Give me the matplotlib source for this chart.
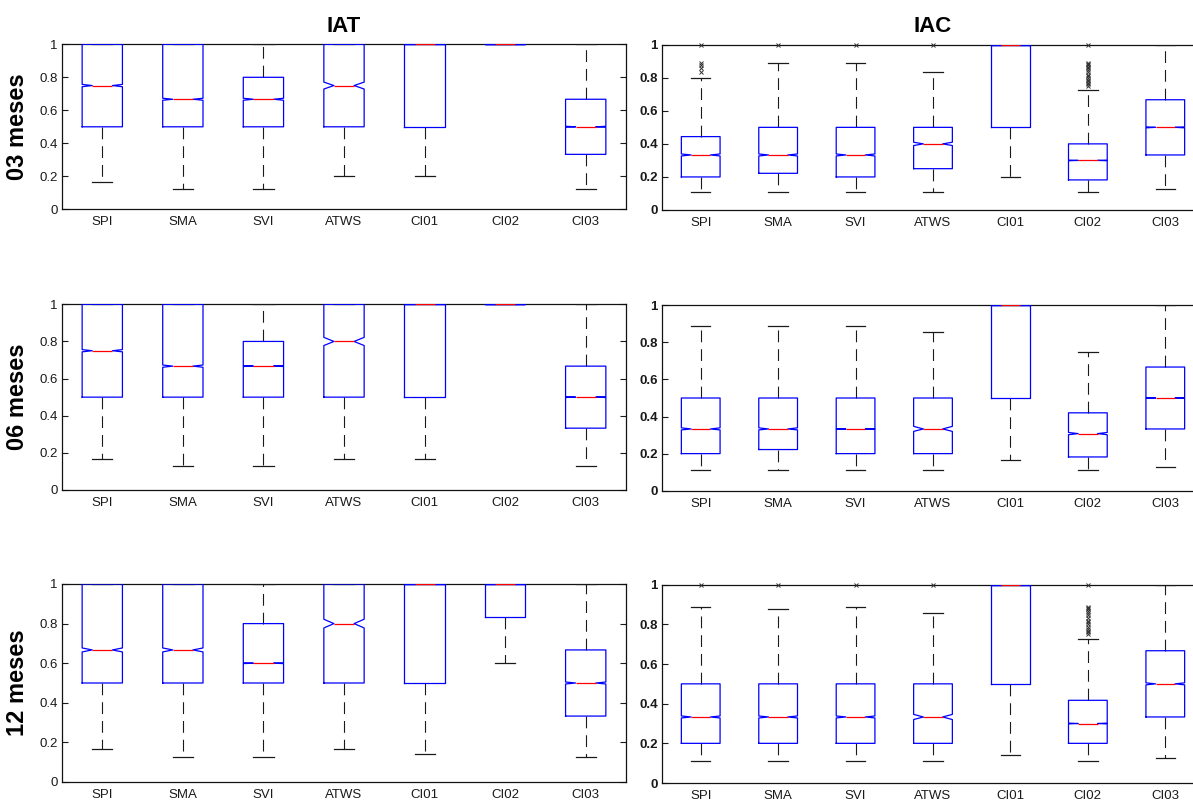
import matplotlib
matplotlib.use('Agg')
import matplotlib.pyplot as plt

plt.rcParams['font.family'] = ['Liberation Sans', 'DejaVu Sans']
plt.rcParams['lines.scale_dashes'] = False

categories = ['SPI', 'SMA', 'SVI', 'ATWS', 'CI01', 'CI02', 'CI03']
col_titles = ['IAT', 'IAC']
row_labels = ['03 meses', '06 meses', '12 meses']
ytick_vals = [0, 0.2, 0.4, 0.6, 0.8, 1.0]
ytick_text = ['0', '0.2', '0.4', '0.6', '0.8', '1']

# ---------------- IAT, 03 meses ----------------
iat03_med = [0.75, 0.667, 0.667, 0.75, 1.0, 1.0, 0.5]
iat03_q1 = [0.5, 0.5, 0.5, 0.5, 0.5, 1.0, 0.333]
iat03_q3 = [1.0, 1.0, 0.8, 1.0, 1.0, 1.0, 0.667]
iat03_lo = [0.167, 0.125, 0.125, 0.2, 0.2, 1.0, 0.125]
iat03_hi = [1.0, 1.0, 1.0, 1.0, 1.0, 1.0, 1.0]
iat03_cilo = [0.743, 0.661, 0.661, 0.729, 1.0, 1.0, 0.497]
iat03_cihi = [0.757, 0.673, 0.673, 0.771, 1.0, 1.0, 0.503]
iat03_out = [[], [], [], [], [], [], []]

# ---------------- IAC, 03 meses ----------------
iac03_med = [0.333, 0.333, 0.333, 0.4, 1.0, 0.3, 0.5]
iac03_q1 = [0.2, 0.222, 0.2, 0.25, 0.5, 0.182, 0.333]
iac03_q3 = [0.444, 0.5, 0.5, 0.5, 1.0, 0.4, 0.667]
iac03_lo = [0.111, 0.111, 0.111, 0.111, 0.2, 0.111, 0.125]
iac03_hi = [0.8, 0.889, 0.889, 0.833, 1.0, 0.727, 1.0]
iac03_cilo = [0.327, 0.327, 0.327, 0.39, 1.0, 0.298, 0.497]
iac03_cihi = [0.339, 0.339, 0.339, 0.41, 1.0, 0.302, 0.503]
iac03_out = [[0.833, 0.857, 0.875, 0.889, 1.0], [1.0], [1.0], [1.0], [],
             [0.75, 0.76, 0.769, 0.778, 0.786, 0.8, 0.812, 0.818, 0.833,
              0.846, 0.857, 0.867, 0.875, 0.882, 0.889, 1.0], []]

# ---------------- IAT, 06 meses ----------------
iat06_med = [0.75, 0.667, 0.667, 0.8, 1.0, 1.0, 0.5]
iat06_q1 = [0.5, 0.5, 0.5, 0.5, 0.5, 1.0, 0.333]
iat06_q3 = [1.0, 1.0, 0.8, 1.0, 1.0, 1.0, 0.667]
iat06_lo = [0.167, 0.13, 0.13, 0.167, 0.167, 1.0, 0.13]
iat06_hi = [1.0, 1.0, 1.0, 1.0, 1.0, 1.0, 1.0]
iat06_cilo = [0.744, 0.661, 0.665, 0.778, 1.0, 1.0, 0.498]
iat06_cihi = [0.756, 0.673, 0.669, 0.822, 1.0, 1.0, 0.502]
iat06_out = [[], [], [], [], [], [], []]

# ---------------- IAC, 06 meses ----------------
iac06_med = [0.333, 0.333, 0.333, 0.333, 1.0, 0.308, 0.5]
iac06_q1 = [0.2, 0.222, 0.2, 0.2, 0.5, 0.182, 0.333]
iac06_q3 = [0.5, 0.5, 0.5, 0.5, 1.0, 0.42, 0.667]
iac06_lo = [0.111, 0.111, 0.111, 0.111, 0.167, 0.111, 0.13]
iac06_hi = [0.889, 0.889, 0.889, 0.857, 1.0, 0.75, 1.0]
iac06_cilo = [0.328, 0.328, 0.332, 0.32, 1.0, 0.302, 0.498]
iac06_cihi = [0.339, 0.339, 0.334, 0.347, 1.0, 0.314, 0.502]
iac06_out = [[], [], [], [], [], [], []]

# ---------------- IAT, 12 meses ----------------
iat12_med = [0.667, 0.667, 0.6, 0.8, 1.0, 1.0, 0.5]
iat12_q1 = [0.5, 0.5, 0.5, 0.5, 0.5, 0.833, 0.333]
iat12_q3 = [1.0, 1.0, 0.8, 1.0, 1.0, 1.0, 0.667]
iat12_lo = [0.167, 0.125, 0.125, 0.167, 0.143, 0.6, 0.125]
iat12_hi = [1.0, 1.0, 1.0, 1.0, 1.0, 1.0, 1.0]
iat12_cilo = [0.657, 0.657, 0.598, 0.778, 1.0, 1.0, 0.495]
iat12_cihi = [0.677, 0.677, 0.602, 0.822, 1.0, 1.0, 0.505]
iat12_out = [[], [], [], [], [], [], []]

# ---------------- IAC, 12 meses ----------------
iac12_med = [0.333, 0.333, 0.333, 0.333, 1.0, 0.3, 0.5]
iac12_q1 = [0.2, 0.2, 0.2, 0.2, 0.5, 0.2, 0.333]
iac12_q3 = [0.5, 0.5, 0.5, 0.5, 1.0, 0.417, 0.667]
iac12_lo = [0.111, 0.111, 0.111, 0.111, 0.143, 0.111, 0.125]
iac12_hi = [0.889, 0.875, 0.889, 0.857, 1.0, 0.727, 1.0]
iac12_cilo = [0.328, 0.328, 0.328, 0.32, 1.0, 0.298, 0.495]
iac12_cihi = [0.338, 0.338, 0.338, 0.346, 1.0, 0.302, 0.505]
iac12_out = [[1.0], [1.0], [1.0], [1.0], [],
             [0.75, 0.76, 0.769, 0.778, 0.786, 0.8, 0.812, 0.818, 0.833,
              0.846, 0.857, 0.867, 0.875, 0.882, 0.889, 1.0], []]

panels = [
    [(iat03_med, iat03_q1, iat03_q3, iat03_lo, iat03_hi, iat03_cilo, iat03_cihi, iat03_out),
     (iac03_med, iac03_q1, iac03_q3, iac03_lo, iac03_hi, iac03_cilo, iac03_cihi, iac03_out)],
    [(iat06_med, iat06_q1, iat06_q3, iat06_lo, iat06_hi, iat06_cilo, iat06_cihi, iat06_out),
     (iac06_med, iac06_q1, iac06_q3, iac06_lo, iac06_hi, iac06_cilo, iac06_cihi, iac06_out)],
    [(iat12_med, iat12_q1, iat12_q3, iat12_lo, iat12_hi, iat12_cilo, iat12_cihi, iat12_out),
     (iac12_med, iac12_q1, iac12_q3, iac12_lo, iac12_hi, iac12_cilo, iac12_cihi, iac12_out)],
]

W, H = 1193, 801
fig = plt.figure(figsize=(W / 100, H / 100), dpi=100)

# axes geometry in pixels: (left, width) per column, (top, bottom) per row/column
col_x = [(62, 564), (662, 542)]
row_y = [[(44.3, 209.3), (44.7, 210.0)],
         [(304.3, 490.0), (305.3, 490.7)],
         [(584.0, 782.0), (584.7, 783.0)]]


def build_stats(med, q1, q3, lo, hi, cilo, cihi, out):
    stats = []
    for i in range(len(med)):
        stats.append(dict(med=med[i], q1=q1[i], q3=q3[i], whislo=lo[i],
                          whishi=hi[i], cilo=cilo[i], cihi=cihi[i],
                          fliers=out[i]))
    return stats


for r in range(3):
    for c in range(2):
        x0, w = col_x[c]
        top, bot = row_y[r][c]
        ax = fig.add_axes([x0 / W, (H - bot) / H, w / W, (bot - top) / H])
        stats = build_stats(*panels[r][c])
        res = ax.bxp(stats, positions=range(1, 8), widths=0.5, capwidths=0.25,
                     shownotches=True,
                     boxprops=dict(color='#0000ff', linewidth=0.9),
                     medianprops=dict(color='#ff0000', linewidth=0.9),
                     whiskerprops=dict(color='#1a1a1a', linewidth=0.8,
                                       linestyle=(0, (8.5, 5.0))),
                     capprops=dict(color='#1a1a1a', linewidth=0.9),
                     flierprops=dict(marker='x', markersize=3.5,
                                     markeredgecolor='#333333',
                                     markeredgewidth=0.7, linestyle='none',
                                     clip_on=False))
        for a in res['whiskers'] + res['caps']:
            a.set_zorder(2.6)
        for a in res['boxes']:
            a.set_zorder(3.0)
        for a in res['medians']:
            a.set_zorder(3.1)
        for a in res['fliers']:
            a.set_zorder(3.2)

        ax.set_xlim(0.5, 7.5)
        ax.set_ylim(0, 1)
        ax.set_xticks(range(1, 8))
        ax.set_xticklabels(categories, fontsize=9.5)
        ax.set_yticks(ytick_vals)
        ax.set_yticklabels(ytick_text, fontsize=9.5,
                           fontweight='bold' if c == 1 else 'normal')
        ax.tick_params(axis='x', length=0, pad=5, colors='#1a1a1a')
        ax.tick_params(axis='y', direction='in', length=4, width=0.8,
                       left=True, right=True, pad=3, colors='#1a1a1a')
        for s in ax.spines.values():
            s.set_linewidth(0.9)
            s.set_color('#111111')
        if r == 0:
            ax.set_title(col_titles[c], fontsize=16, fontweight='bold', pad=9)
        if c == 0:
            yc = (top + bot) / 2
            fig.text(18 / W, (H - yc) / H, row_labels[r], rotation=90,
                     ha='center', va='center', fontsize=17, fontweight='bold')

fig.savefig('out.png', dpi=100)
